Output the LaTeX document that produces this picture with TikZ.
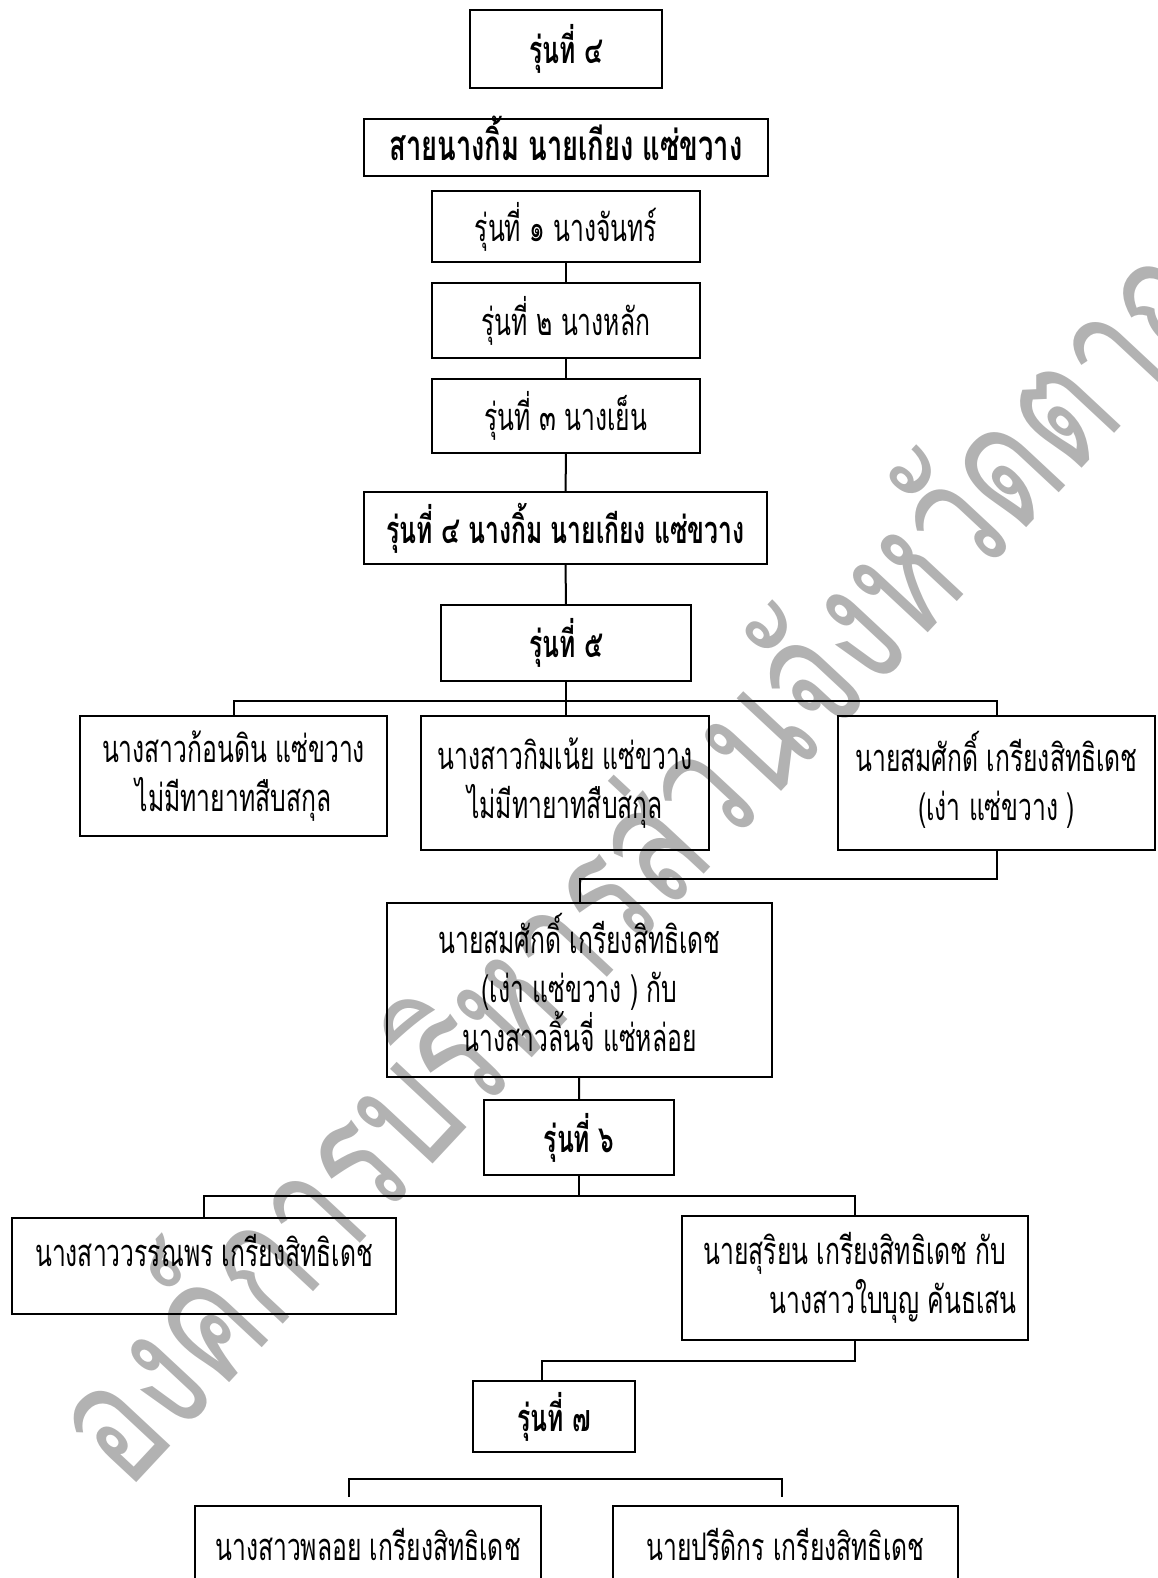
\documentclass[tikz,border=0pt]{standalone}
\usepackage{fontspec}
\usepackage{tikz}
\newfontfamily\thaifont[Script=Thai, FakeStretch=0.65]{Loma}
\newfontfamily\markfont[Script=Thai, FakeStretch=0.72]{Loma}
\newcommand{\thaitext}{\thaifont\fontsize{19}{24.5}\selectfont}
\newcommand{\thaibold}{\thaifont\bfseries\fontsize{19}{24.5}\selectfont}
\newcommand{\thaibig}{\thaifont\bfseries\fontsize{21}{26}\selectfont}
\newcommand{\thaimark}{\markfont\fontsize{86}{90}\selectfont}

\begin{document}
\begin{tikzpicture}[
            x=0.5pt, y=-0.5pt,
            person/.style={
                rectangle,
                draw,
                line width=1.1pt,
                inner sep=0pt,
                align=center,
                font=\thaitext
            },
            generation/.style={
                person,
                font=\thaibold
            },
            link/.style={
                line width=1pt
            },
            watermark/.style={
                text=black!30,
                font=\thaimark,
                rotate=47
            }
        ]
        \clip (0,0) rectangle (1157,1578);

        % Watermark behind everything
        \node[watermark] (wm) at (622,852) {องค์การบริหารส่วนจังหวัดตาก};

        % Heading
        \node (head) [generation, minimum width=96pt, minimum height=39pt] at (566,49) {รุ่นที่ ๔};
        \node (lineage) [generation, font=\thaibig, text height=16pt, text depth=3pt, minimum width=202pt, minimum height=28.5pt] at (566,147.5) {สายนางกิ้ม นายเกียง แซ่ขวาง};

        % Generations 1 to 4
        \node (gen1) [person, minimum width=134pt, minimum height=35.5pt] at (566,226.5) {รุ่นที่ ๑ นางจันทร์};
        \node (gen2) [person, minimum width=134pt, minimum height=37.5pt] at (566,320.5) {รุ่นที่ ๒ นางหลัก};
        \node (gen3) [person, minimum width=134pt, minimum height=37pt] at (566,416) {รุ่นที่ ๓ นางเย็น};
        \node (gen4) [generation, minimum width=201.5pt, minimum height=36pt] at (565.5,528) {รุ่นที่ ๔ นางกิ้ม นายเกียง แซ่ขวาง};

        % Generation 5
        \node (gen5) [generation, minimum width=125pt, minimum height=38pt] at (566,643) {รุ่นที่ ๕};
        \node (kondin) [person, minimum width=153.5pt, minimum height=60pt] at (233.5,776) {นางสาวก้อนดิน แซ่ขวาง\\ไม่มีทายาทสืบสกุล};
        \node (kimnoi) [person, minimum width=144pt, minimum height=67pt] at (565,783) {นางสาวกิมเน้ย แซ่ขวาง\\ไม่มีทายาทสืบสกุล};
        \node (somsak) [person, minimum width=158.5pt, minimum height=67pt] at (996.5,783) {นายสมศักดิ์ เกรียงสิทธิเดช\\(เง่า แซ่ขวาง )\\[-17.5pt]};
        \node (couple) [person, minimum width=192.5pt, minimum height=87pt] at (579.5,990) {นายสมศักดิ์ เกรียงสิทธิเดช\\(เง่า แซ่ขวาง ) กับ\\นางสาวลิ้นจี่ แซ่หล่อย\\[-16.5pt]};

        % Generation 6
        \node (gen6) [generation, minimum width=95pt, minimum height=37.5pt] at (579,1137.5) {รุ่นที่ ๖};
        \node (wanna) [person, text height=10pt, text depth=10pt, minimum width=192pt, minimum height=48pt] at (204,1266) {นางสาววรรณพร เกรียงสิทธิเดช};
        \node (suriyon) [person, minimum width=173pt, minimum height=62pt] at (855,1278) {นายสุริยน เกรียงสิทธิเดช กับ\\\hspace*{2em}นางสาวใบบุญ คันธเสน};

        % Generation 7
        \node (gen7) [generation, minimum width=81pt, minimum height=35.5pt] at (554,1416.5) {รุ่นที่ ๗};
        \node (ploy) [person, minimum width=173pt, minimum height=38pt] at (368,1544) {นางสาวพลอย เกรียงสิทธิเดช};
        \node (preedi) [person, minimum width=172.5pt, minimum height=38pt] at (785.5,1544) {นายปรีดิกร เกรียงสิทธิเดช};

        % Links down the line
        \draw[link] (gen1) -- (gen2);
        \draw[link] (gen2) -- (gen3);
        \draw[link] (gen3) -- (gen4);
        \draw[link] (gen4) -- (gen5);

        % Children of generation 5
        \coordinate (fork5) at (566,701);
        \draw[link] (gen5.south) -- (gen5.south |- kimnoi.north);
        \draw[link] (kondin.north) |- (fork5) -| (somsak.north);
        \draw[link] (somsak.south) -- ++(0,28) -| (couple.north);
        \draw[link] (couple) -- (gen6);

        % Children of generation 6
        \draw[link] (gen6.south) -- ++(0,20) coordinate (fork6);
        \draw[link] (wanna.north) |- (fork6) -| (suriyon.north);
        \draw[link] (suriyon.south) -- ++(0,20) -| ([xshift=-6pt]gen7.north);

        % Children of generation 7
        \coordinate (ployend) at (349,1497);
        \coordinate (preediend) at (782,1497);
        \draw[link] (ployend) -- ++(0,-18) -| (preediend);

\end{tikzpicture}
\end{document}
